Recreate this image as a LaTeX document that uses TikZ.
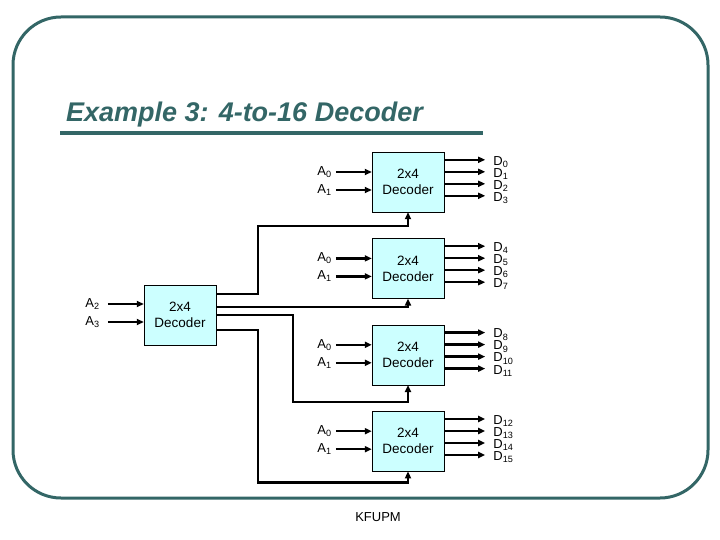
\documentclass[tikz,border=0pt]{standalone}
\usepackage{fontspec}
\setmainfont{Liberation Sans}
\usetikzlibrary{arrows.meta,calc}
\definecolor{slate}{RGB}{51,102,102}
\definecolor{boxfill}{RGB}{204,255,255}
\tikzset{
    dec/.style={draw, fill=boxfill, minimum width=72pt, minimum height=60pt, align=center, inner sep=0pt, font=\fontsize{13.5}{16}\selectfont},
    wire/.style={line width=2.4pt},
    lbl/.style={inner sep=0pt, font=\fontsize{13}{13}\selectfont}
}
\begin{document}
\begin{tikzpicture}[x=1pt,y=-1pt,>={Triangle[length=7pt,width=6pt]}]
\useasboundingbox (0,0) rectangle (720,540);
\draw[slate, line width=3pt, rounded corners=48pt] (13,17) rectangle (708,498);
\node[anchor=base west, inner sep=0pt, text=slate, font=\fontsize{27}{27}\selectfont\bfseries\itshape] (title) at (66,122) {Example 3: 4-to-16 Decoder};
\draw[slate, line width=3.5pt] (60,133) -- (483,133);
\foreach \k in {0,1,2,3} {
    \pgfmathsetmacro{\yc}{182+86.4*\k}
    \node[dec] (dec\k) at (408,\yc) {2x4\\Decoder};
    \coordinate (dec\k-i0) at ($(dec\k.west)+(-36,-10)$);
    \coordinate (dec\k-i1) at ($(dec\k.west)+(-36,8)$);
    \node[lbl, anchor=east] (dec\k-la0) at ($(dec\k-i0)+(-4,0)$) {A\textsubscript{0}};
    \node[lbl, anchor=east] (dec\k-la1) at ($(dec\k-i1)+(-4,0)$) {A\textsubscript{1}};
    \draw[wire,->] (dec\k-i0) -- (dec\k-i0 -| dec\k.west);
    \draw[wire,->] (dec\k-i1) -- (dec\k-i1 -| dec\k.west);
    \foreach \j in {0,1,2,3} {
        \pgfmathtruncatemacro{\n}{4*\k+\j}
        \coordinate (dec\k-o\j) at ($(dec\k.north east)+(0,8+12*\j)$);
        \draw[wire,->] (dec\k-o\j) -- ++(41,0) coordinate (dec\k-e\j);
        \node[lbl, anchor=west] (dec\k-ld\j) at ($(dec\k-e\j)+(8,2)$) {D\textsubscript{\n}};
    }
}
\node[dec] (sel) at (180,315) {2x4\\Decoder};
\coordinate (sel-i0) at ($(sel.west)+(-36,-11)$);
\coordinate (sel-i1) at ($(sel.west)+(-36,7)$);
\node[lbl, anchor=east] (sel-la0) at ($(sel-i0)+(-8,0)$) {A\textsubscript{2}};
\node[lbl, anchor=east] (sel-la1) at ($(sel-i1)+(-8,0)$) {A\textsubscript{3}};
\draw[wire,->] (sel-i0) -- (sel-i0 -| sel.west);
\draw[wire,->] (sel-i1) -- (sel-i1 -| sel.west);
\coordinate (sel-o0) at ($(sel.east)+(0,-21)$);
\coordinate (sel-o1) at ($(sel.east)+(0,-8)$);
\coordinate (sel-o2) at ($(sel.east)+(0,0)$);
\coordinate (sel-o3) at ($(sel.east)+(0,15)$);
\coordinate (bus0) at ($(dec0.south)+(-150,14)$);
\coordinate (bus2) at ($(dec2.south)+(-115,17)$);
\coordinate (bus3) at ($(dec3.south)+(-150,11)$);
\draw[wire,->] (sel-o0) -| (bus0) -| (dec0.south);
\draw[wire,->] (sel-o1) -| (dec1.south);
\draw[wire,->] (sel-o2) -| (bus2) -| (dec2.south);
\draw[wire,->] (sel-o3) -| (bus3) -| (dec3.south);
\node[lbl] (footer) at (378,517) {KFUPM};
\end{tikzpicture}
\end{document}
